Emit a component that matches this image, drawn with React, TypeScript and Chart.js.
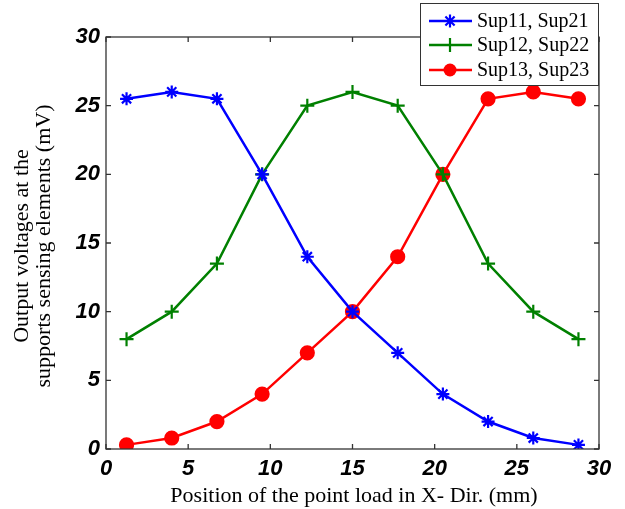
import React, { useEffect, useRef } from "react";
import { Chart, registerables } from "chart.js";

Chart.register(...registerables);

const positions = [1.25, 4, 6.75, 9.5, 12.25, 15, 17.75, 20.5, 23.25, 26, 28.75];
const sup11 = [25.5, 26, 25.5, 20, 14, 10, 7, 4, 2, 0.8, 0.3];
const sup12 = [8, 10, 13.5, 20, 25, 26, 25, 20, 13.5, 10, 8];
const sup13 = [0.3, 0.8, 2, 4, 7, 10, 14, 20, 25.5, 26, 25.5];
const seriesLabels = ["Sup11, Sup21", "Sup12, Sup22", "Sup13, Sup23"];
const seriesColors = ["#0000ff", "#008000", "#ff0000"];
const seriesStyles = ["star", "cross", "circle"];
const xTitle = "Position of the point load in X- Dir. (mm)";
const yTitleLines = ["Output voltages at the", "supports sensing elements (mV)"];
const tickValues = [0, 5, 10, 15, 20, 25, 30];

const SERIF = "'Liberation Serif', 'Times New Roman', serif";
const SANS = "'Liberation Sans', Arial, sans-serif";

function drawMarker(ctx: CanvasRenderingContext2D, style: string, color: string, r: number, x: number, y: number) {
  ctx.save();
  ctx.strokeStyle = color;
  ctx.fillStyle = color;
  ctx.lineWidth = 2.2;
  ctx.beginPath();
  if (style === "circle") {
    ctx.arc(x, y, r, 0, Math.PI * 2);
    ctx.fill();
  } else if (style === "cross") {
    ctx.moveTo(x - r, y);
    ctx.lineTo(x + r, y);
    ctx.moveTo(x, y - r);
    ctx.lineTo(x, y + r);
    ctx.stroke();
  } else {
    ctx.moveTo(x - r, y);
    ctx.lineTo(x + r, y);
    ctx.moveTo(x, y - r);
    ctx.lineTo(x, y + r);
    const d = r * Math.SQRT1_2;
    ctx.moveTo(x - d, y - d);
    ctx.lineTo(x + d, y + d);
    ctx.moveTo(x - d, y + d);
    ctx.lineTo(x + d, y - d);
    ctx.stroke();
  }
  ctx.restore();
}

const decorPlugin = {
  id: "decor",
  afterDraw(chart: any) {
    const ctx = chart.ctx as CanvasRenderingContext2D;
    const { left, right, top, bottom } = chart.chartArea;
    const xs = chart.scales.x;
    const ys = chart.scales.y;
    ctx.save();
    ctx.strokeStyle = "#333";
    ctx.lineWidth = 1.3;
    ctx.strokeRect(left, top, right - left, bottom - top);
    const tl = 5;
    ctx.beginPath();
    for (const v of tickValues) {
      const px = xs.getPixelForValue(v);
      ctx.moveTo(px, bottom);
      ctx.lineTo(px, bottom - tl);
      ctx.moveTo(px, top);
      ctx.lineTo(px, top + tl);
      const py = ys.getPixelForValue(v);
      ctx.moveTo(left, py);
      ctx.lineTo(left + tl, py);
      ctx.moveTo(right, py);
      ctx.lineTo(right - tl, py);
    }
    ctx.stroke();

    ctx.fillStyle = "#000";
    ctx.font = `22px ${SERIF}`;
    ctx.textAlign = "center";
    ctx.textBaseline = "alphabetic";
    ctx.fillText(xTitle, 354, 502);

    ctx.save();
    ctx.translate(0, 246);
    ctx.rotate(-Math.PI / 2);
    ctx.fillText(yTitleLines[0], 0, 28);
    ctx.fillText(yTitleLines[1], 0, 50);
    ctx.restore();

    const lx = 420, ly = 3, lw = 178, lh = 82;
    ctx.fillStyle = "#fff";
    ctx.fillRect(lx, ly, lw, lh);
    ctx.strokeStyle = "#333";
    ctx.lineWidth = 1;
    ctx.strokeRect(lx + 0.5, ly + 0.5, lw, lh);
    const rows = [21, 45, 70];
    const radii = [6.5, 7, 6.5];
    ctx.font = `20px ${SERIF}`;
    ctx.textAlign = "left";
    ctx.textBaseline = "middle";
    for (let i = 0; i < 3; i++) {
      const y = rows[i];
      ctx.strokeStyle = seriesColors[i];
      ctx.lineWidth = 2.5;
      ctx.beginPath();
      ctx.moveTo(429, y);
      ctx.lineTo(472, y);
      ctx.stroke();
      drawMarker(ctx, seriesStyles[i], seriesColors[i], radii[i], 450, y);
      ctx.fillStyle = "#000";
      ctx.fillText(seriesLabels[i], 477, y + 1);
    }
    ctx.restore();
  },
};

export default function App() {
  const ref = useRef<HTMLCanvasElement>(null);
  useEffect(() => {
    if (!ref.current) return;
    const series = [sup11, sup12, sup13];
    const radii = [6.5, 7, 6.5];
    const chart = new Chart(ref.current, {
      type: "line",
      data: {
        datasets: series.map((s, i) => ({
          label: seriesLabels[i],
          data: positions.map((x, j) => ({ x, y: s[j] })),
          borderColor: seriesColors[i],
          backgroundColor: seriesColors[i],
          pointBorderColor: seriesColors[i],
          pointBackgroundColor: seriesColors[i],
          pointStyle: seriesStyles[i] as any,
          pointRadius: radii[i],
          pointBorderWidth: 2.2,
          borderWidth: 2.5,
          tension: 0,
        })),
      },
      options: {
        responsive: false,
        animation: false,
        layout: { padding: { left: 0, right: 26, top: 37, bottom: 0 } },
        plugins: {
          legend: { display: false },
          tooltip: { enabled: false },
        },
        scales: {
          x: {
            type: "linear",
            min: 0,
            max: 30,
            grid: { display: false, drawTicks: false },
            border: { display: false },
            afterFit: (s: any) => {
              s.height = 60;
            },
            ticks: {
              stepSize: 5,
              padding: 7,
              color: "#000",
              font: { family: SANS, size: 22, weight: "bold", style: "italic" },
              maxRotation: 0,
            },
          },
          y: {
            type: "linear",
            min: 0,
            max: 30,
            grid: { display: false, drawTicks: false },
            border: { display: false },
            afterFit: (s: any) => {
              s.width = 106;
            },
            ticks: {
              stepSize: 5,
              padding: 6,
              color: "#000",
              font: { family: SANS, size: 22, weight: "bold", style: "italic" },
            },
          },
        },
      },
      plugins: [decorPlugin],
    });
    return () => chart.destroy();
  }, []);
  return (
    <div style={{ position: "fixed", left: 0, top: 0, width: 625, height: 509, background: "#fff" }}>
      <canvas ref={ref} width={625} height={509} />
    </div>
  );
}
